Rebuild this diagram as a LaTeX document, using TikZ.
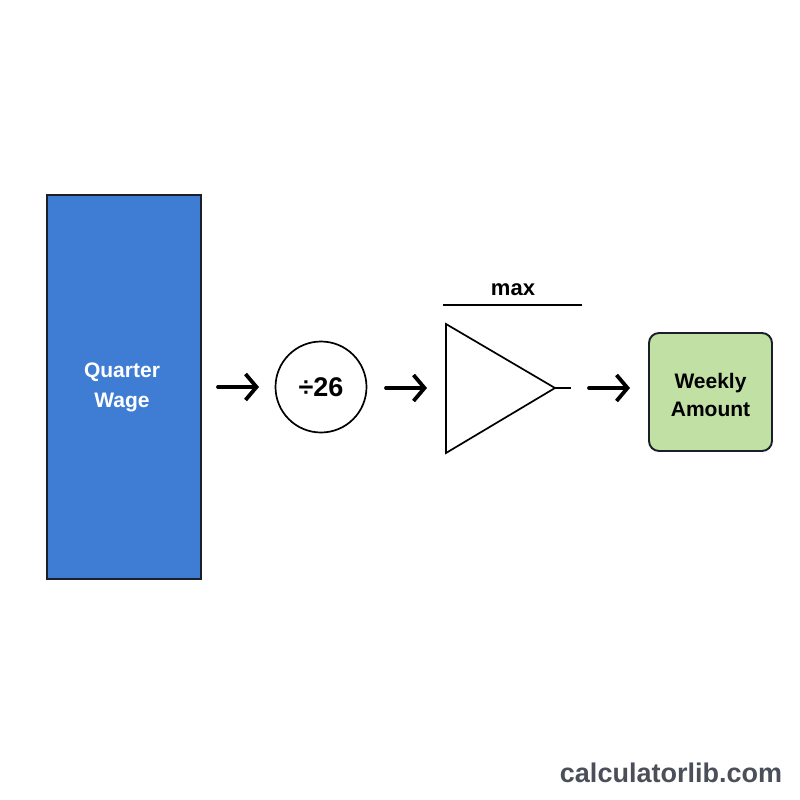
\documentclass[tikz,border=0pt]{standalone}
\usepackage{fontspec}
\setmainfont{Liberation Sans}
\usetikzlibrary{arrows.meta}
\definecolor{qblue}{HTML}{3F7CD4}
\definecolor{wgreen}{HTML}{C0E0A4}
\definecolor{edgedark}{HTML}{1A1F2A}
\definecolor{wmark}{HTML}{4A4F5A}
\tikzset{
  flow/.style={line width=3.8pt,line cap=round,-{Straight Barb[length=11pt,width=26pt,line width=3.8pt]}},
  lbl/.style={font=\bfseries\fontsize{21}{30}\selectfont,align=center,inner sep=0pt},
}
\begin{document}
\begin{tikzpicture}[x=1pt,y=-1pt]
\useasboundingbox (0,0) rectangle (800,800);
\fill[white] (0,0) rectangle (800,800);
% blue box
\draw[fill=qblue,draw=edgedark,line width=1.4pt] (47,195) rectangle (201,579);
\node[lbl,text=white] (qw) at (122,387) {Quarter\\Wage};
% circle
\node[circle,draw=black,line width=1.7pt,minimum size=91pt,inner sep=0pt,font=\bfseries\fontsize{27}{30}\selectfont] (div) at (321,387) {÷26};
% triangle
\coordinate (tt) at (446,324);
\coordinate (tb) at (446,453);
\coordinate (ta) at (555,388);
\coordinate (to) at (571,388);
\draw[line width=1.7pt,line join=miter] (tt) -- (ta) -- (tb) -- cycle;
\draw[line width=1.7pt] (ta) -- (to);
\coordinate (b1) at (443,305);
\coordinate (b2) at (582,305);
\draw[line width=2.2pt] (b1) -- (b2);
\node[font=\bfseries\fontsize{22}{26}\selectfont,inner sep=0pt] (mx) at (513,290) {max};
% green box
\node[draw=edgedark,fill=wgreen,line width=1.9pt,rounded corners=10pt,minimum width=123pt,minimum height=118pt] (wk) at (710.5,392) {};
\node[lbl,text=black,font=\bfseries\fontsize{21}{28}\selectfont] (wkt) at (710.5,395) {Weekly\\Amount};
% arrows
\coordinate (a1s) at (218,387); \coordinate (a1e) at (259,387);
\coordinate (a2s) at (386,388); \coordinate (a2e) at (427,388);
\coordinate (a3s) at (589,388); \coordinate (a3e) at (630,388);
\draw[flow] (a1s) -- (a1e);
\draw[flow] (a2s) -- (a2e);
\draw[flow] (a3s) -- (a3e);
% watermark
\node[font=\bfseries\fontsize{27}{30}\selectfont,text=wmark,inner sep=0pt] (wm) at (671,773) {calculatorlib.com};
\end{tikzpicture}
\end{document}
